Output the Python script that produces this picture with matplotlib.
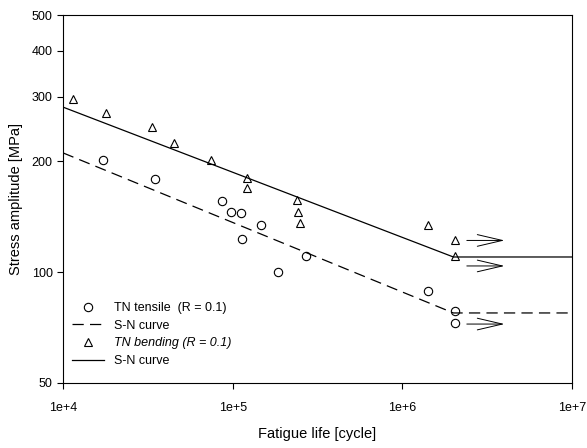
import matplotlib
matplotlib.use("Agg")
import matplotlib.pyplot as plt
from matplotlib.ticker import FixedLocator, FixedFormatter, NullLocator

plt.rcParams['font.family'] = ['Liberation Sans', 'DejaVu Sans']

# TN tensile test data (R = 0.1)
tens_N = [17200, 34800, 86500, 97700, 112000, 147000, 113000, 270000, 185000, 1.42e6, 2.04e6, 2.04e6]
tens_S = [202, 179, 156, 146, 145, 134, 123, 111, 100, 89, 78.5, 73]
# TN bending test data (R = 0.1)
bend_N = [11450, 17900, 33400, 45100, 74500, 121000, 121000, 239000, 242000, 248000, 1.42e6, 2.04e6, 2.04e6]
bend_S = [296, 271, 248, 224, 202, 180, 169, 157, 146, 136, 134, 122, 111]

# S-N curves (knee at 2e6 cycles)
tens_curve_N = [1e4, 2e6, 1e7]
tens_curve_S = [211, 77.5, 77.5]
bend_curve_N = [1e4, 2e6, 1e7]
bend_curve_S = [281, 110, 110]

# run-outs
runout_S = [122, 104, 72.3]

fig = plt.figure(figsize=(5.87, 4.48), dpi=100)
ax = fig.add_axes([0.1073, 0.1451, 0.8671, 0.8214])

ax.plot(tens_N, tens_S, linestyle='none', marker='o', ms=6, mfc='none', mec='black',
        mew=0.8, label='TN tensile  (R = 0.1)')
ax.plot(tens_curve_N, tens_curve_S, color='black', lw=0.9, dashes=(9, 5), label='S-N curve')
ax.plot(bend_N, bend_S, linestyle='none', marker='^', ms=6, mfc='none', mec='black',
        mew=0.8, label='TN bending (R = 0.1)')
ax.plot(bend_curve_N, bend_curve_S, color='black', lw=0.9, label='S-N curve')

for s in runout_S:
    ax.annotate('', xy=(4.0e6, s), xytext=(2.4e6, s),
                arrowprops=dict(arrowstyle='->,head_length=1.8,head_width=0.42',
                                mutation_scale=10, color='black', lw=0.7,
                                shrinkA=0, shrinkB=0))

ax.set_xscale('log')
ax.set_yscale('log')
ax.set_xlim(1e4, 1e7)
ax.set_ylim(50, 500)

ax.xaxis.set_major_locator(FixedLocator([1e4, 1e5, 1e6, 1e7]))
ax.xaxis.set_major_formatter(FixedFormatter(['1e+4', '1e+5', '1e+6', '1e+7']))
ax.xaxis.set_minor_locator(NullLocator())
ax.yaxis.set_major_locator(FixedLocator([50, 100, 200, 300, 400, 500]))
ax.yaxis.set_major_formatter(FixedFormatter(['50', '100', '200', '300', '400', '500']))
ax.yaxis.set_minor_locator(NullLocator())
ax.tick_params(labelsize=9, length=4, width=0.8)
ax.tick_params(axis='x', pad=10)

ax.set_xlabel('Fatigue life [cycle]', fontsize=10.5, labelpad=9)
ax.set_ylabel('Stress amplitude [MPa]', fontsize=10.5, labelpad=6)

leg = ax.legend(loc='lower left', bbox_to_anchor=(0.0, 0.02), frameon=False, fontsize=9,
                handlelength=2.6, labelspacing=0.45, borderaxespad=0.3)
leg.get_texts()[2].set_fontstyle('italic')

fig.savefig('out.png', dpi=100)
